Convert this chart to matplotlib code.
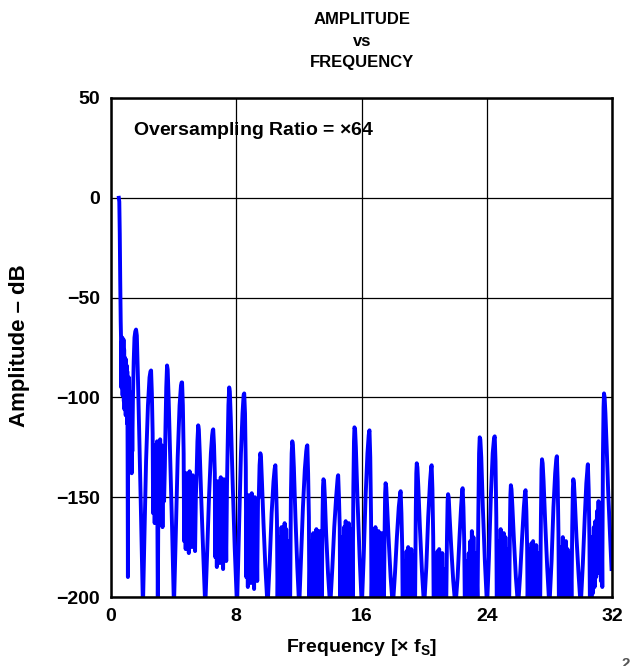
import matplotlib
matplotlib.use('Agg')
import matplotlib.pyplot as plt
from matplotlib import font_manager

# fonts: Liberation Sans stands in for Arial/Helvetica
names = {f.name for f in font_manager.fontManager.ttflist}
base_font = 'Liberation Sans' if 'Liberation Sans' in names else 'DejaVu Sans'
plt.rcParams['font.family'] = [base_font, 'DejaVu Sans']
plt.rcParams['font.weight'] = 'bold'
plt.rcParams['mathtext.fontset'] = 'custom'
plt.rcParams['mathtext.rm'] = base_font
plt.rcParams['mathtext.bf'] = base_font + ':bold'
plt.rcParams['path.simplify'] = False

# spectrum (frequency in x fS, amplitude in dB)
# one block per odd multiple of fS: rising side, peak, dense cluster, peak, falling side
freq = [
    0.50, 0.53, 0.56, 0.59, 0.62, 0.64, 0.66, 0.68, 0.70, 0.72, 0.74, 0.76, 0.78, 0.80, 0.82, 0.84, 0.86, 0.88, 0.90, 0.92,
    0.94, 0.96, 0.98, 1.00, 1.02, 1.04, 1.06, 1.08, 1.10, 1.12, 1.14, 1.16, 1.18, 1.20, 1.22, 1.24, 1.26, 1.28, 1.30, 1.32,
    1.34, 1.36, 1.40, 1.45, 1.50, 1.55, 1.60, 1.65, 1.72, 1.82, 1.92, 2.04,
    # 3
    2.12, 2.24, 2.36, 2.46, 2.52, 2.56, 2.61, 2.66,
    2.69, 2.74, 2.79, 2.84, 2.89, 2.94, 2.99, 3.04, 3.09, 3.14, 3.19, 3.24, 3.29, 3.34, 3.39, 3.44,
    3.48, 3.53, 3.58, 3.62, 3.68, 3.78, 3.90, 4.02,
    # 5
    4.14, 4.26, 4.38, 4.47, 4.51, 4.54, 4.59, 4.64,
    4.67, 4.72, 4.77, 4.82, 4.87, 4.92, 4.97, 5.02, 5.07, 5.12, 5.17, 5.22, 5.27, 5.32, 5.37, 5.42,
    5.47, 5.52, 5.57, 5.61, 5.67, 5.77, 5.89, 6.02,
    # 7
    6.14, 6.26, 6.38, 6.46, 6.50, 6.53, 6.58, 6.63,
    6.66, 6.71, 6.76, 6.81, 6.86, 6.91, 6.96, 7.01, 7.06, 7.11, 7.16, 7.21, 7.26, 7.31, 7.36, 7.41,
    7.45, 7.50, 7.55, 7.59, 7.65, 7.76, 7.90, 8.05,
    # 9
    8.18, 8.30, 8.40, 8.47, 8.48, 8.51, 8.56, 8.61,
    8.64, 8.69, 8.74, 8.79, 8.84, 8.89, 8.94, 8.99, 9.04, 9.09, 9.14, 9.19, 9.24, 9.29, 9.34, 9.39,
    9.44, 9.49, 9.54, 9.58, 9.64, 9.74, 9.86, 10.00,
    # 11
    10.14, 10.26, 10.38, 10.45, 10.48, 10.50, 10.55, 10.60,
    10.64, 10.69, 10.74, 10.79, 10.84, 10.89, 10.94, 10.99, 11.04, 11.09, 11.14, 11.19, 11.24, 11.29, 11.34, 11.39,
    11.44, 11.49, 11.54, 11.58, 11.62, 11.68, 11.78, 11.90, 12.02,
    # 13
    12.14, 12.26, 12.38, 12.47, 12.51, 12.54, 12.59, 12.64,
    12.67, 12.72, 12.77, 12.82, 12.87, 12.92, 12.97, 13.02, 13.07, 13.12, 13.17, 13.22, 13.27, 13.32, 13.37, 13.42,
    13.46, 13.51, 13.54, 13.57, 13.61, 13.66, 13.74, 13.86, 14.00,
    # 15
    14.14, 14.26, 14.38, 14.47, 14.49, 14.51, 14.56, 14.61,
    14.64, 14.69, 14.74, 14.79, 14.84, 14.89, 14.94, 14.99, 15.04, 15.09, 15.14, 15.19, 15.24, 15.29, 15.34, 15.39,
    15.43, 15.48, 15.52, 15.55, 15.59, 15.64, 15.74, 15.88, 16.02,
    # 17
    16.14, 16.26, 16.38, 16.46, 16.49, 16.51, 16.56, 16.61,
    16.64, 16.69, 16.74, 16.79, 16.84, 16.89, 16.94, 16.99, 17.04, 17.09, 17.14, 17.19, 17.24, 17.29, 17.34, 17.39,
    17.43, 17.48, 17.51, 17.54, 17.58, 17.64, 17.74, 17.86, 18.00,
    # 19
    18.14, 18.26, 18.38, 18.46, 18.48, 18.50, 18.55, 18.60,
    18.63, 18.68, 18.73, 18.78, 18.83, 18.88, 18.93, 18.98, 19.03, 19.08, 19.13, 19.18, 19.23, 19.28, 19.33, 19.38,
    19.42, 19.47, 19.50, 19.53, 19.57, 19.63, 19.73, 19.86, 20.00,
    # 21
    20.14, 20.26, 20.38, 20.44, 20.46, 20.48, 20.53, 20.58,
    20.61, 20.66, 20.71, 20.76, 20.81, 20.86, 20.91, 20.96, 21.01, 21.06, 21.11, 21.16, 21.21, 21.26, 21.31, 21.36,
    21.41, 21.46, 21.50, 21.53, 21.57, 21.63, 21.73, 21.86, 22.00,
    # 23
    22.14, 22.26, 22.36, 22.42, 22.44, 22.46, 22.51, 22.56,
    22.60, 22.65, 22.70, 22.75, 22.80, 22.85, 22.90, 22.95, 23.00, 23.05, 23.10, 23.15, 23.20, 23.25, 23.30, 23.35,
    23.41, 23.46, 23.51, 23.55, 23.59, 23.65, 23.75, 23.88, 24.02,
    # 25
    24.14, 24.26, 24.38, 24.46, 24.49, 24.51, 24.56, 24.61,
    24.64, 24.69, 24.74, 24.79, 24.84, 24.89, 24.94, 24.99, 25.04, 25.09, 25.14, 25.19, 25.24, 25.29, 25.34, 25.39,
    25.43, 25.48, 25.51, 25.54, 25.58, 25.64, 25.74, 25.86, 26.00,
    # 27
    26.14, 26.26, 26.37, 26.44, 26.46, 26.48, 26.53, 26.58,
    26.61, 26.66, 26.71, 26.76, 26.81, 26.86, 26.91, 26.96, 27.01, 27.06, 27.11, 27.16, 27.21, 27.26, 27.31, 27.36,
    27.41, 27.46, 27.50, 27.53, 27.57, 27.63, 27.73, 27.86, 28.00,
    # 29
    28.14, 28.26, 28.37, 28.44, 28.46, 28.48, 28.53, 28.58,
    28.61, 28.66, 28.71, 28.76, 28.81, 28.86, 28.91, 28.96, 29.01, 29.06, 29.11, 29.16, 29.21, 29.26, 29.31, 29.36,
    29.41, 29.46, 29.50, 29.53, 29.57, 29.63, 29.73, 29.86, 30.00,
    # 31
    30.14, 30.26, 30.36, 30.42, 30.44, 30.46, 30.51, 30.56,
    30.59, 30.64, 30.69, 30.74, 30.79, 30.84, 30.89, 30.94, 30.99, 31.04, 31.09, 31.14, 31.19, 31.24, 31.29, 31.34,
    31.38, 31.42, 31.46, 31.49, 31.53, 31.58, 31.66, 31.76, 31.88, 31.97,
]

amp_db = [
    0, -2, -18, -42, -62, -70, -95, -72, -91, -70, -99, -73, -88, -71, -102, -76, -106, -80, -96, -82,
    -109, -81, -101, -84, -113, -87, -126, -190, -94, -119, -90, -131, -97, -123, -101, -137, -105, -129, -110, -138,
    -112, -127, -101, -82, -70, -67, -66, -69, -90, -124, -160, -205,
    # 3
    -175, -132, -104, -90, -87, -86.5, -98, -118,
    -158, -124, -163, -126, -150, -122, -205, -128, -160, -121, -155, -124, -165, -127, -152, -135,
    -115, -95, -84, -86, -100, -130, -165, -205,
    # 5
    -168, -130, -104, -94, -92.5, -92.5, -104, -128,
    -172, -140, -176, -138, -168, -145, -178, -137, -170, -142, -175, -139, -166, -148, -177, -150,
    -138, -122, -114, -116, -128, -152, -178, -205,
    # 7
    -178, -150, -128, -119, -116.5, -116, -124, -138,
    -180, -148, -185, -142, -176, -150, -183, -140, -178, -145, -186, -141, -174, -152, -182, -143,
    -125, -104, -95, -97, -110, -140, -175, -205,
    # 9
    -165, -128, -108, -99, -98.5, -98, -108, -135,
    -190, -152, -195, -149, -185, -158, -193, -148, -182, -155, -196, -150, -188, -160, -192, -151,
    -150, -134, -128, -130, -142, -163, -185, -205,
    # 11
    -182, -158, -142, -136, -134.5, -134, -146, -162,
    -205, -175, -205, -170, -205, -165, -205, -168, -205, -163, -205, -166, -205, -172, -205, -178,
    -205, -150, -128, -122, -124, -135, -160, -185, -205,
    # 13
    -180, -155, -136, -127, -124.5, -124, -138, -160,
    -205, -180, -205, -172, -205, -168, -205, -175, -205, -166, -205, -170, -205, -167, -205, -178,
    -205, -160, -145, -141, -142, -150, -168, -188, -205,
    # 15
    -185, -165, -150, -141, -139.5, -139, -150, -165,
    -205, -178, -205, -170, -205, -165, -205, -162, -205, -168, -205, -163, -205, -171, -205, -166,
    -205, -145, -122, -115, -116, -125, -150, -180, -205,
    # 17
    -180, -150, -128, -119, -117, -116.5, -130, -160,
    -205, -182, -205, -172, -205, -165, -205, -170, -205, -167, -205, -175, -205, -168, -205, -176,
    -205, -165, -148, -143, -145, -155, -172, -190, -205,
    # 19
    -188, -170, -155, -149, -147.5, -147, -158, -175,
    -205, -190, -205, -182, -205, -177, -205, -175, -205, -180, -205, -176, -205, -184, -205, -179,
    -205, -155, -138, -133, -135, -145, -165, -187, -205,
    # 21
    -185, -160, -142, -136, -134.5, -134, -146, -170,
    -205, -195, -205, -185, -205, -177, -205, -176, -205, -182, -205, -178, -205, -186, -205, -190,
    -205, -170, -152, -148.5, -150, -160, -175, -192, -205,
    # 23
    -190, -170, -155, -148, -146, -145.5, -155, -172,
    -205, -190, -205, -182, -205, -178, -205, -172, -205, -167, -205, -170, -205, -178, -205, -183,
    -205, -160, -128, -120, -121, -130, -155, -182, -205,
    # 25
    -180, -150, -128, -121, -119.8, -119.5, -132, -160,
    -205, -178, -205, -172, -205, -166, -205, -175, -205, -168, -205, -170, -205, -180, -205, -176,
    -205, -165, -149, -144, -146, -155, -172, -190, -205,
    # 27
    -188, -170, -155, -148, -147, -146.5, -157, -175,
    -205, -185, -205, -176, -205, -173, -205, -172, -205, -180, -205, -174, -205, -178, -205, -185,
    -205, -160, -136, -131, -133, -142, -162, -185, -205,
    # 29
    -182, -155, -138, -131, -130, -129.5, -142, -168,
    -205, -182, -205, -175, -205, -170, -205, -178, -205, -172, -205, -176, -205, -183, -205, -178,
    -205, -165, -146, -141, -143, -152, -170, -188, -205,
    # 31
    -183, -160, -143, -137, -134.5, -133.5, -146, -172,
    -205, -180, -200, -170, -198, -165, -195, -162, -190, -157, -185, -152, -188, -154, -192, -160,
    -195, -130, -105, -98, -100, -108, -125, -148, -170, -186,
]

x_ticks = [0, 8, 16, 24, 32]
y_ticks = [-200, -150, -100, -50, 0, 50]
y_tick_labels = ['\u2212200', '\u2212150', '\u2212100', '\u221250', '0', '50']

W, H = 632, 666
fig = plt.figure(figsize=(W / 100, H / 100), dpi=100)
ax = fig.add_axes([111 / W, 69 / H, 501 / W, 499 / H])

ax.plot(freq, amp_db, color='#0000FF', lw=2.8, solid_joinstyle='round')

ax.set_xlim(0, 32)
ax.set_ylim(-200, 50)
ax.set_xticks(x_ticks)
ax.set_yticks(y_ticks)
ax.set_yticklabels(y_tick_labels)
ax.grid(True, color='black', lw=0.9)
ax.tick_params(length=0, labelsize=14, pad=8)
for lab in ax.get_xticklabels() + ax.get_yticklabels():
    lab.set_fontweight('bold')
for sp in ax.spines.values():
    sp.set_linewidth(1.8)
    sp.set_color('black')

ax.text(0.044, 0.934, 'Oversampling Ratio = $\\times$64', transform=ax.transAxes,
        fontsize=14, fontweight='bold', va='center', ha='left')

fig.text(362 / W, 1 - 41 / H, 'AMPLITUDE\nvs\nFREQUENCY', ha='center', va='center',
         fontsize=12, fontweight='bold', linespacing=1.55)
fig.text(20 / W, 1 - 346 / H, 'Amplitude \u2013 dB', rotation=90, ha='center', va='center',
         fontsize=16, fontweight='bold')
fig.text(362 / W, 1 - 648 / H, 'Frequency [$\\times$ $\\mathbf{f}_\\mathbf{S}$]', ha='center', va='center',
         fontsize=14, fontweight='bold')
fig.text(626 / W, 2 / H, '2', ha='center', va='center', fontsize=11, color='#555555')

fig.savefig('out.png', dpi=100)
